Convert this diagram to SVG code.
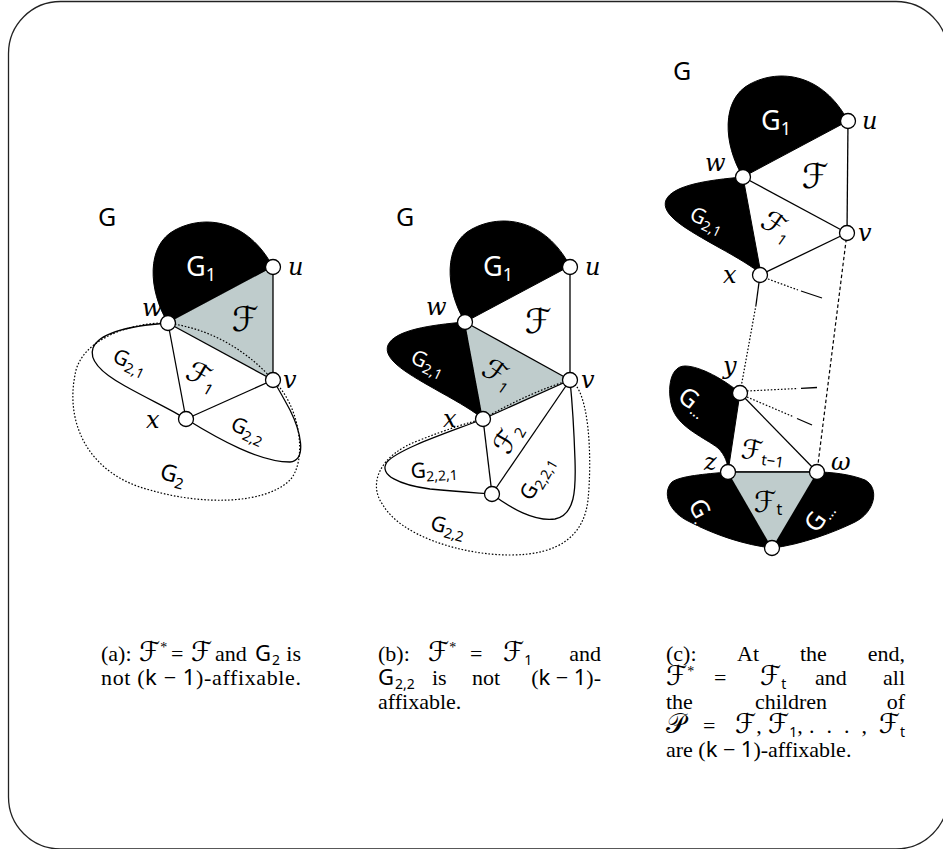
<svg xmlns="http://www.w3.org/2000/svg" width="943" height="849" viewBox="0 0 943 849">
<style>
.blk{fill:#000;stroke:#000;stroke-width:1}
.gry{fill:#bfcccc;stroke:none}
.e{stroke:#000;stroke-width:1.3;fill:none}
.dot{stroke:#000;stroke-width:1.2;fill:none;stroke-dasharray:1.6 1.8}
.dsh{stroke:#000;stroke-width:1.2;fill:none;stroke-dasharray:3.5 2.5}
.nd{fill:#fff;stroke:#000;stroke-width:1.3}
.lbl{font-family:"DejaVu Serif","Liberation Serif",serif;font-style:italic;font-size:24px;fill:#000}
.sf{font-family:"Noto Sans","DejaVu Sans",sans-serif}
.cal{font-family:"DejaVu Sans",sans-serif}
.cap{font-family:"Liberation Serif",serif;font-size:22px;fill:#000}
.cf{font-family:"DejaVu Sans",sans-serif;font-size:27px}
.wt{fill:#fff}
</style>
<rect x="8.5" y="1.5" width="939.5" height="847.5" rx="52" fill="#fff" stroke="#222" stroke-width="1.3"/>

<!-- ================= Panel (a) ================= -->
<g id="a-title"><text class="sf" x="98" y="226" font-size="25">G</text></g>
<g id="a-G1">
<path class="blk" d="M168,323 C148,290 146,245 175,230 C205,214 248,220 273,267 Z"/>
<text class="sf wt" x="186" y="276" font-size="27">G<tspan font-size="18" dy="5">1</tspan></text>
</g>
<g id="a-F">
<path class="gry" d="M168,323 L273,267 L273,380 Z"/>
<text class="cal" x="245" y="331" font-size="34" text-anchor="middle">ℱ</text>
</g>
<g id="a-connectors">
<line class="e" x1="273" y1="267" x2="273" y2="380"/>
<line class="e" x1="168" y1="323" x2="273" y2="380"/>
<line class="e" x1="168" y1="323" x2="186" y2="419"/>
<line class="e" x1="186" y1="419" x2="273" y2="380"/>
<path class="e" d="M168,323 C140,325 100,330 93,348 C88,362 105,375 125,386 C150,400 172,410 186,419"/>
<path class="e" d="M186,419 C220,440 260,462 290,462 C308,460 300,430 290,410 C283,397 278,388 273,380"/>
<path class="dot" d="M168,323 Q230,332 273,380 C300,405 308,460 290,480 C265,505 200,505 150,490 C90,475 65,425 75,375 C80,340 130,322 168,323 Z"/>
</g>
<g id="a-labels">
<g transform="translate(130,362) rotate(25)"><text class="sf" text-anchor="middle" y="7" font-size="21">G<tspan font-size="14" dy="4">2,1</tspan></text></g>
<g transform="translate(202,377) rotate(30)"><text class="cal" text-anchor="middle" y="9" font-size="29">ℱ<tspan class="sf" font-size="15" dy="4">1</tspan></text></g>
<g transform="translate(248,430) rotate(25)"><text class="sf" text-anchor="middle" y="7" font-size="21">G<tspan font-size="14" dy="4">2,2</tspan></text></g>
<g transform="translate(173,474) rotate(15)"><text class="sf" text-anchor="middle" y="8" font-size="23">G<tspan font-size="15" dy="5">2</tspan></text></g>
</g>
<g id="a-u"><circle class="nd" cx="273" cy="267" r="7.5"/><text class="lbl" x="288" y="275">u</text></g>
<g id="a-w"><circle class="nd" cx="168" cy="323" r="7.5"/><text class="lbl" x="142" y="316">w</text></g>
<g id="a-v"><circle class="nd" cx="273" cy="380" r="7.5"/><text class="lbl" x="283" y="388">v</text></g>
<g id="a-x"><circle class="nd" cx="186" cy="419" r="7.5"/><text class="lbl" x="146" y="428">x</text></g>

<!-- ================= Panel (b) ================= -->
<g id="b-title"><text class="sf" x="396" y="226" font-size="25">G</text></g>
<g id="b-G1">
<path class="blk" d="M465,322 C445,289 443,244 472,229 C502,213 545,219 570,266 Z"/>
<text class="sf wt" x="483" y="276" font-size="27">G<tspan font-size="18" dy="5">1</tspan></text>
</g>
<g id="b-G21">
<path class="blk" d="M465,322 C430,325 395,330 388,345 C382,360 410,375 440,392 C460,403 475,412 483,419 Z"/>
<g transform="translate(428,363) rotate(25)"><text class="sf wt" text-anchor="middle" y="7" font-size="21">G<tspan font-size="14" dy="4">2,1</tspan></text></g>
</g>
<g id="b-F1">
<path class="gry" d="M465,322 L570,380 L483,419 Z"/>
<g transform="translate(498,375) rotate(35)"><text class="cal" text-anchor="middle" y="9" font-size="29">ℱ<tspan class="sf" font-size="15" dy="4">1</tspan></text></g>
</g>
<g id="b-F"><text class="cal" x="538" y="333" font-size="34" text-anchor="middle">ℱ</text></g>
<g id="b-connectors">
<line class="e" x1="570" y1="267" x2="570" y2="380"/>
<line class="e" x1="465" y1="322" x2="570" y2="380"/>
<line class="e" x1="483" y1="419" x2="570" y2="380"/>
<line class="e" x1="483" y1="419" x2="492" y2="494"/>
<line class="e" x1="492" y1="494" x2="570" y2="380"/>
<path class="e" d="M483,419 C450,432 400,448 387,462 C378,475 400,485 430,489 C460,492 480,493 492,494"/>
<path class="e" d="M492,494 C510,508 535,522 555,519 C575,515 576,490 575,460 C574,430 572,400 570,380"/>
<path class="dot" d="M483,419 Q528,393 570,380 C590,390 592,460 588,500 C584,535 560,555 510,555 C460,555 400,535 383,505 C368,485 378,455 420,440 C445,430 470,422 483,419 Z"/>
</g>
<g id="b-labels">
<g transform="translate(508,438) rotate(-60)"><text class="cal" text-anchor="middle" y="9" font-size="28">ℱ<tspan class="sf" font-size="15" dy="4">2</tspan></text></g>
<g transform="translate(434,470) rotate(-3)"><text class="sf" text-anchor="middle" y="7" font-size="21">G<tspan font-size="14" dy="4">2,2,1</tspan></text></g>
<g transform="translate(537,478) rotate(-60)"><text class="sf" text-anchor="middle" y="7" font-size="21">G<tspan font-size="14" dy="4">2,2,1</tspan></text></g>
<g transform="translate(448,527) rotate(15)"><text class="sf" text-anchor="middle" y="7" font-size="21">G<tspan font-size="14" dy="4">2,2</tspan></text></g>
</g>
<g id="b-u"><circle class="nd" cx="570" cy="267" r="7.5"/><text class="lbl" x="585" y="275">u</text></g>
<g id="b-w"><circle class="nd" cx="465" cy="322" r="7.5"/><text class="lbl" x="426" y="315">w</text></g>
<g id="b-v"><circle class="nd" cx="570" cy="380" r="7.5"/><text class="lbl" x="581" y="388">v</text></g>
<g id="b-x"><circle class="nd" cx="483" cy="419" r="7.5"/><text class="lbl" x="443" y="427">x</text></g>
<g id="b-n5"><circle class="nd" cx="492" cy="494" r="7.5"/></g>

<!-- ================= Panel (c) ================= -->
<g id="c-title"><text class="sf" x="673" y="80" font-size="25">G</text></g>
<g id="c-G1">
<path class="blk" d="M743,177 C723,144 721,99 750,84 C780,68 823,74 848,121 Z"/>
<text class="sf wt" x="761" y="130" font-size="27">G<tspan font-size="18" dy="5">1</tspan></text>
</g>
<g id="c-G21">
<path class="blk" d="M743,177 C708,180 673,185 666,200 C660,215 688,230 718,247 C738,258 753,267 761,274 Z"/>
<g transform="translate(707,220) rotate(25)"><text class="sf wt" text-anchor="middle" y="7" font-size="21">G<tspan font-size="14" dy="4">2,1</tspan></text></g>
</g>
<g id="c-F"><text class="cal" x="815" y="188" font-size="34" text-anchor="middle">ℱ</text></g>
<g id="c-F1"><g transform="translate(777,227) rotate(35)"><text class="cal" text-anchor="middle" y="9" font-size="29">ℱ<tspan class="sf" font-size="15" dy="4">1</tspan></text></g></g>
<g id="c-Gdots1">
<path class="blk" d="M740,393 C725,380 700,366 685,366 C668,366 667,395 673,410 C680,428 705,438 718,448 C725,455 728,463 728,472 Z"/>
<g transform="translate(693,402) rotate(38)"><text class="sf wt" text-anchor="middle" y="8" font-size="25">G<tspan font-size="15" dy="3">...</tspan></text></g>
</g>
<g id="c-Gbottom">
<path class="blk" d="M728,472 C705,474 680,476 672,482 C662,492 668,512 690,522 C715,535 745,545 772,548 C800,545 835,532 855,522 C875,512 880,488 865,480 C850,474 830,472 817,472 Z"/>
<path class="gry" d="M728,472 L817,472 L772,548 Z"/>
<g transform="translate(702,514) rotate(62)"><text class="sf wt" text-anchor="middle" y="8" font-size="25">G<tspan font-size="15" dy="3">...</tspan></text></g>
<g transform="translate(819,517) rotate(-55)"><text class="sf wt" text-anchor="middle" y="8" font-size="25">G<tspan font-size="15" dy="3">...</tspan></text></g>
<text class="cal" x="768" y="512" font-size="29" text-anchor="middle">ℱ<tspan class="sf" font-size="16" dy="3">t</tspan></text>
</g>
<g id="c-connectors">
<line class="e" x1="848" y1="121" x2="847" y2="233"/>
<line class="e" x1="743" y1="177" x2="847" y2="233"/>
<line class="e" x1="760" y1="275" x2="847" y2="233"/>
<line class="e" x1="760" y1="275" x2="756" y2="305"/>
<line class="dot" x1="756" y1="305" x2="740" y2="393"/>
<line class="dot" x1="768" y1="279" x2="798" y2="290"/>
<line class="e" x1="801" y1="291" x2="822" y2="298"/>
<line class="dsh" x1="847" y1="233" x2="817" y2="472"/>
<line class="e" x1="740" y1="393" x2="817" y2="472"/>
<line class="dot" x1="747" y1="391" x2="798" y2="388.5"/>
<line class="e" x1="801" y1="388.3" x2="817" y2="387.5"/>
<line class="dot" x1="747" y1="397" x2="794" y2="417"/>
<line class="e" x1="797" y1="418.5" x2="812" y2="425"/>
<line class="e" x1="728" y1="472" x2="817" y2="472"/>
</g>
<g id="c-Ft1"><g transform="translate(763,453) rotate(8)"><text class="cal" text-anchor="middle" y="8" font-size="27">ℱ<tspan class="sf" font-size="15" dy="4">t−1</tspan></text></g></g>
<g id="c-u"><circle class="nd" cx="848" cy="121" r="7.5"/><text class="lbl" x="862" y="129">u</text></g>
<g id="c-w"><circle class="nd" cx="743" cy="177" r="7.5"/><text class="lbl" x="705" y="171">w</text></g>
<g id="c-v"><circle class="nd" cx="847" cy="233" r="7.5"/><text class="lbl" x="858" y="241">v</text></g>
<g id="c-x"><circle class="nd" cx="760" cy="275" r="7.5"/><text class="lbl" x="723" y="283">x</text></g>
<g id="c-y"><circle class="nd" cx="740" cy="393" r="7.5"/><text class="lbl" x="723" y="374">y</text></g>
<g id="c-z"><circle class="nd" cx="728" cy="472" r="7.5"/><text class="lbl" x="704" y="470">z</text></g>
<g id="c-om"><circle class="nd" cx="817" cy="472" r="7.5"/><text class="lbl" x="831" y="470">ω</text></g>
<g id="c-bt"><circle class="nd" cx="772" cy="548" r="7.5"/></g>

<!-- ================= Captions ================= -->
<g id="cap-a" class="cap">
<text x="101" y="661">(a):</text>
<text x="139" y="661"><tspan class="cf">ℱ</tspan><tspan font-size="14" dy="-9">*</tspan></text>
<text x="171" y="661">=</text>
<text x="191" y="661" class="cf">ℱ</text>
<text x="215" y="661">and</text>
<text x="255" y="661"><tspan class="sf">G</tspan><tspan class="sf" font-size="14" dx="1" dy="4">2</tspan></text>
<text x="301" y="661" text-anchor="end">is</text>
<text x="101" y="685" textLength="200" lengthAdjust="spacing">not (<tspan class="sf">k</tspan> − <tspan class="sf">1</tspan>)-affixable.</text>
</g>
<g id="cap-b" class="cap">
<text x="378" y="661">(b):</text>
<text x="428" y="661"><tspan class="cf">ℱ</tspan><tspan font-size="14" dy="-9">*</tspan></text>
<text x="470" y="661">=</text>
<text x="503" y="661"><tspan class="cf">ℱ</tspan><tspan class="sf" font-size="14" dy="4">1</tspan></text>
<text x="601" y="661" text-anchor="end">and</text>
<text x="378" y="685"><tspan class="sf">G</tspan><tspan class="sf" font-size="14" dx="1" dy="4">2,2</tspan></text>
<text x="432" y="685">is</text>
<text x="472" y="685">not</text>
<text x="601" y="685" text-anchor="end">(<tspan class="sf">k</tspan> − <tspan class="sf">1</tspan>)-</text>
<text x="378" y="709">affixable.</text>
</g>
<g id="cap-c" class="cap">
<text x="666" y="661">(c):</text>
<text x="737" y="661">At</text>
<text x="800" y="661">the</text>
<text x="905" y="661" text-anchor="end">end,</text>
<text x="666" y="685"><tspan class="cf">ℱ</tspan><tspan font-size="14" dy="-9">*</tspan></text>
<text x="714" y="685">=</text>
<text x="760" y="685"><tspan class="cf">ℱ</tspan><tspan class="sf" font-size="14" dy="4">t</tspan></text>
<text x="815" y="685">and</text>
<text x="905" y="685" text-anchor="end">all</text>
<text x="666" y="709">the</text>
<text x="755" y="709">children</text>
<text x="905" y="709" text-anchor="end">of</text>
<text x="666" y="733" class="cf">𝒫</text>
<text x="703" y="733">=</text>
<text x="735" y="733"><tspan class="cf">ℱ</tspan>,</text>
<text x="768" y="733"><tspan class="cf">ℱ</tspan><tspan class="sf" font-size="14" dy="4">1</tspan><tspan dy="-4">,</tspan></text>
<text x="809" y="733" textLength="58" lengthAdjust="spacing">. . . ,</text>
<text x="905" y="733" text-anchor="end"><tspan class="cf">ℱ</tspan><tspan class="sf" font-size="14" dy="4">t</tspan></text>
<text x="666" y="757">are (<tspan class="sf">k</tspan> − <tspan class="sf">1</tspan>)-affixable.</text>
</g>
</svg>
